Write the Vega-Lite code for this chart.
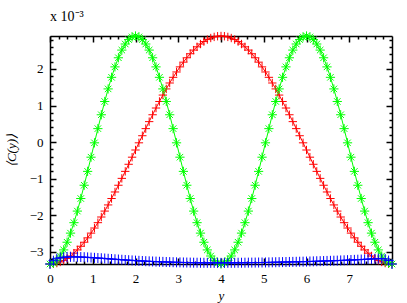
{
  "$schema": "https://vega.github.io/schema/vega-lite/v6.json",
  "width": 342,
  "height": 228,
  "autosize": {"type": "none"},
  "padding": {"left": 50, "top": 36, "right": 15, "bottom": 39},
  "background": "white",
  "title": {"text": "x 10⁻³", "anchor": "start", "frame": "group", "offset": 5, "font": "Liberation Serif", "fontSize": 14, "fontWeight": "normal", "color": "black"},
  "config": {
    "view": {"stroke": null},
    "axis": {"labelFont": "Liberation Serif", "labelFontSize": 13, "labelColor": "black", "titleFont": "Liberation Serif", "titleFontSize": 13, "titleFontWeight": "normal", "titleColor": "black", "domainColor": "black", "domainWidth": 1.5, "tickColor": "black", "tickWidth": 1.5, "grid": false, "labelFlush": false, "labelOverlap": false}
  },
  "data": {"values": [
    {"x":0,"y":-3.330,"s":"r"},{"x":0.08,"y":-3.324,"s":"r"},{"x":0.16,"y":-3.305,"s":"r"},{"x":0.24,"y":-3.275,"s":"r"},{"x":0.32,"y":-3.232,"s":"r"},{"x":0.4,"y":-3.178,"s":"r"},{"x":0.48,"y":-3.111,"s":"r"},{"x":0.56,"y":-3.034,"s":"r"},{"x":0.64,"y":-2.945,"s":"r"},{"x":0.72,"y":-2.845,"s":"r"},{"x":0.8,"y":-2.735,"s":"r"},{"x":0.88,"y":-2.615,"s":"r"},{"x":0.96,"y":-2.486,"s":"r"},{"x":1.04,"y":-2.347,"s":"r"},{"x":1.12,"y":-2.201,"s":"r"},{"x":1.2,"y":-2.046,"s":"r"},{"x":1.28,"y":-1.884,"s":"r"},{"x":1.36,"y":-1.716,"s":"r"},{"x":1.44,"y":-1.541,"s":"r"},{"x":1.52,"y":-1.362,"s":"r"},{"x":1.6,"y":-1.178,"s":"r"},{"x":1.68,"y":-0.990,"s":"r"},{"x":1.76,"y":-0.799,"s":"r"},{"x":1.84,"y":-0.605,"s":"r"},{"x":1.92,"y":-0.411,"s":"r"},{"x":2,"y":-0.215,"s":"r"},
    {"x":2.08,"y":-0.019,"s":"r"},{"x":2.16,"y":0.175,"s":"r"},{"x":2.24,"y":0.369,"s":"r"},{"x":2.32,"y":0.560,"s":"r"},{"x":2.4,"y":0.748,"s":"r"},{"x":2.48,"y":0.932,"s":"r"},{"x":2.56,"y":1.111,"s":"r"},{"x":2.64,"y":1.286,"s":"r"},{"x":2.72,"y":1.454,"s":"r"},{"x":2.8,"y":1.616,"s":"r"},{"x":2.88,"y":1.771,"s":"r"},{"x":2.96,"y":1.917,"s":"r"},{"x":3.04,"y":2.056,"s":"r"},{"x":3.12,"y":2.185,"s":"r"},{"x":3.2,"y":2.305,"s":"r"},{"x":3.28,"y":2.415,"s":"r"},{"x":3.36,"y":2.515,"s":"r"},{"x":3.44,"y":2.604,"s":"r"},{"x":3.52,"y":2.681,"s":"r"},{"x":3.6,"y":2.748,"s":"r"},{"x":3.68,"y":2.802,"s":"r"},{"x":3.76,"y":2.845,"s":"r"},{"x":3.84,"y":2.875,"s":"r"},{"x":3.92,"y":2.894,"s":"r"},{"x":4,"y":2.900,"s":"r"},
    {"x":4.08,"y":2.894,"s":"r"},{"x":4.16,"y":2.875,"s":"r"},{"x":4.24,"y":2.845,"s":"r"},{"x":4.32,"y":2.802,"s":"r"},{"x":4.4,"y":2.748,"s":"r"},{"x":4.48,"y":2.681,"s":"r"},{"x":4.56,"y":2.604,"s":"r"},{"x":4.64,"y":2.515,"s":"r"},{"x":4.72,"y":2.415,"s":"r"},{"x":4.8,"y":2.305,"s":"r"},{"x":4.88,"y":2.185,"s":"r"},{"x":4.96,"y":2.056,"s":"r"},{"x":5.04,"y":1.917,"s":"r"},{"x":5.12,"y":1.771,"s":"r"},{"x":5.2,"y":1.616,"s":"r"},{"x":5.28,"y":1.454,"s":"r"},{"x":5.36,"y":1.286,"s":"r"},{"x":5.44,"y":1.111,"s":"r"},{"x":5.52,"y":0.932,"s":"r"},{"x":5.6,"y":0.748,"s":"r"},{"x":5.68,"y":0.560,"s":"r"},{"x":5.76,"y":0.369,"s":"r"},{"x":5.84,"y":0.175,"s":"r"},{"x":5.92,"y":-0.019,"s":"r"},{"x":6,"y":-0.215,"s":"r"},
    {"x":6.08,"y":-0.411,"s":"r"},{"x":6.16,"y":-0.605,"s":"r"},{"x":6.24,"y":-0.799,"s":"r"},{"x":6.32,"y":-0.990,"s":"r"},{"x":6.4,"y":-1.178,"s":"r"},{"x":6.48,"y":-1.362,"s":"r"},{"x":6.56,"y":-1.541,"s":"r"},{"x":6.64,"y":-1.716,"s":"r"},{"x":6.72,"y":-1.884,"s":"r"},{"x":6.8,"y":-2.046,"s":"r"},{"x":6.88,"y":-2.201,"s":"r"},{"x":6.96,"y":-2.347,"s":"r"},{"x":7.04,"y":-2.486,"s":"r"},{"x":7.12,"y":-2.615,"s":"r"},{"x":7.2,"y":-2.735,"s":"r"},{"x":7.28,"y":-2.845,"s":"r"},{"x":7.36,"y":-2.945,"s":"r"},{"x":7.44,"y":-3.034,"s":"r"},{"x":7.52,"y":-3.111,"s":"r"},{"x":7.6,"y":-3.178,"s":"r"},{"x":7.68,"y":-3.232,"s":"r"},{"x":7.76,"y":-3.275,"s":"r"},{"x":7.84,"y":-3.305,"s":"r"},{"x":7.92,"y":-3.324,"s":"r"},{"x":8,"y":-3.330,"s":"r"},
    {"x":0,"y":-3.330,"s":"g"},{"x":0.08,"y":-3.305,"s":"g"},{"x":0.16,"y":-3.232,"s":"g"},{"x":0.24,"y":-3.111,"s":"g"},{"x":0.32,"y":-2.945,"s":"g"},{"x":0.4,"y":-2.735,"s":"g"},{"x":0.48,"y":-2.486,"s":"g"},{"x":0.56,"y":-2.201,"s":"g"},{"x":0.64,"y":-1.884,"s":"g"},{"x":0.72,"y":-1.541,"s":"g"},{"x":0.8,"y":-1.178,"s":"g"},{"x":0.88,"y":-0.799,"s":"g"},{"x":0.96,"y":-0.411,"s":"g"},{"x":1.04,"y":-0.019,"s":"g"},{"x":1.12,"y":0.369,"s":"g"},{"x":1.2,"y":0.748,"s":"g"},{"x":1.28,"y":1.111,"s":"g"},{"x":1.36,"y":1.454,"s":"g"},{"x":1.44,"y":1.771,"s":"g"},{"x":1.52,"y":2.056,"s":"g"},{"x":1.6,"y":2.305,"s":"g"},{"x":1.68,"y":2.515,"s":"g"},{"x":1.76,"y":2.681,"s":"g"},{"x":1.84,"y":2.802,"s":"g"},{"x":1.92,"y":2.875,"s":"g"},{"x":2,"y":2.900,"s":"g"},
    {"x":2.08,"y":2.875,"s":"g"},{"x":2.16,"y":2.802,"s":"g"},{"x":2.24,"y":2.681,"s":"g"},{"x":2.32,"y":2.515,"s":"g"},{"x":2.4,"y":2.305,"s":"g"},{"x":2.48,"y":2.056,"s":"g"},{"x":2.56,"y":1.771,"s":"g"},{"x":2.64,"y":1.454,"s":"g"},{"x":2.72,"y":1.111,"s":"g"},{"x":2.8,"y":0.748,"s":"g"},{"x":2.88,"y":0.369,"s":"g"},{"x":2.96,"y":-0.019,"s":"g"},{"x":3.04,"y":-0.411,"s":"g"},{"x":3.12,"y":-0.799,"s":"g"},{"x":3.2,"y":-1.178,"s":"g"},{"x":3.28,"y":-1.541,"s":"g"},{"x":3.36,"y":-1.884,"s":"g"},{"x":3.44,"y":-2.201,"s":"g"},{"x":3.52,"y":-2.486,"s":"g"},{"x":3.6,"y":-2.735,"s":"g"},{"x":3.68,"y":-2.945,"s":"g"},{"x":3.76,"y":-3.111,"s":"g"},{"x":3.84,"y":-3.232,"s":"g"},{"x":3.92,"y":-3.305,"s":"g"},{"x":4,"y":-3.330,"s":"g"},
    {"x":4.08,"y":-3.305,"s":"g"},{"x":4.16,"y":-3.232,"s":"g"},{"x":4.24,"y":-3.111,"s":"g"},{"x":4.32,"y":-2.945,"s":"g"},{"x":4.4,"y":-2.735,"s":"g"},{"x":4.48,"y":-2.486,"s":"g"},{"x":4.56,"y":-2.201,"s":"g"},{"x":4.64,"y":-1.884,"s":"g"},{"x":4.72,"y":-1.541,"s":"g"},{"x":4.8,"y":-1.178,"s":"g"},{"x":4.88,"y":-0.799,"s":"g"},{"x":4.96,"y":-0.411,"s":"g"},{"x":5.04,"y":-0.019,"s":"g"},{"x":5.12,"y":0.369,"s":"g"},{"x":5.2,"y":0.748,"s":"g"},{"x":5.28,"y":1.111,"s":"g"},{"x":5.36,"y":1.454,"s":"g"},{"x":5.44,"y":1.771,"s":"g"},{"x":5.52,"y":2.056,"s":"g"},{"x":5.6,"y":2.305,"s":"g"},{"x":5.68,"y":2.515,"s":"g"},{"x":5.76,"y":2.681,"s":"g"},{"x":5.84,"y":2.802,"s":"g"},{"x":5.92,"y":2.875,"s":"g"},{"x":6,"y":2.900,"s":"g"},
    {"x":6.08,"y":2.875,"s":"g"},{"x":6.16,"y":2.802,"s":"g"},{"x":6.24,"y":2.681,"s":"g"},{"x":6.32,"y":2.515,"s":"g"},{"x":6.4,"y":2.305,"s":"g"},{"x":6.48,"y":2.056,"s":"g"},{"x":6.56,"y":1.771,"s":"g"},{"x":6.64,"y":1.454,"s":"g"},{"x":6.72,"y":1.111,"s":"g"},{"x":6.8,"y":0.748,"s":"g"},{"x":6.88,"y":0.369,"s":"g"},{"x":6.96,"y":-0.019,"s":"g"},{"x":7.04,"y":-0.411,"s":"g"},{"x":7.12,"y":-0.799,"s":"g"},{"x":7.2,"y":-1.178,"s":"g"},{"x":7.28,"y":-1.541,"s":"g"},{"x":7.36,"y":-1.884,"s":"g"},{"x":7.44,"y":-2.201,"s":"g"},{"x":7.52,"y":-2.486,"s":"g"},{"x":7.6,"y":-2.735,"s":"g"},{"x":7.68,"y":-2.945,"s":"g"},{"x":7.76,"y":-3.111,"s":"g"},{"x":7.84,"y":-3.232,"s":"g"},{"x":7.92,"y":-3.305,"s":"g"},{"x":8,"y":-3.330,"s":"g"},
    {"x":0,"y":-3.330,"s":"b"},{"x":0.08,"y":-3.240,"s":"b"},{"x":0.16,"y":-3.185,"s":"b"},{"x":0.24,"y":-3.158,"s":"b"},{"x":0.32,"y":-3.145,"s":"b"},{"x":0.4,"y":-3.138,"s":"b"},{"x":0.48,"y":-3.135,"s":"b"},{"x":0.56,"y":-3.135,"s":"b"},{"x":0.64,"y":-3.137,"s":"b"},{"x":0.72,"y":-3.140,"s":"b"},{"x":0.8,"y":-3.144,"s":"b"},{"x":0.88,"y":-3.149,"s":"b"},{"x":0.96,"y":-3.155,"s":"b"},{"x":1.04,"y":-3.161,"s":"b"},{"x":1.12,"y":-3.167,"s":"b"},{"x":1.2,"y":-3.173,"s":"b"},{"x":1.28,"y":-3.180,"s":"b"},{"x":1.36,"y":-3.187,"s":"b"},{"x":1.44,"y":-3.194,"s":"b"},{"x":1.52,"y":-3.201,"s":"b"},{"x":1.6,"y":-3.208,"s":"b"},{"x":1.68,"y":-3.214,"s":"b"},{"x":1.76,"y":-3.220,"s":"b"},{"x":1.84,"y":-3.226,"s":"b"},{"x":1.92,"y":-3.232,"s":"b"},{"x":2,"y":-3.238,"s":"b"},
    {"x":2.08,"y":-3.243,"s":"b"},{"x":2.16,"y":-3.248,"s":"b"},{"x":2.24,"y":-3.253,"s":"b"},{"x":2.32,"y":-3.257,"s":"b"},{"x":2.4,"y":-3.261,"s":"b"},{"x":2.48,"y":-3.265,"s":"b"},{"x":2.56,"y":-3.269,"s":"b"},{"x":2.64,"y":-3.272,"s":"b"},{"x":2.72,"y":-3.275,"s":"b"},{"x":2.8,"y":-3.278,"s":"b"},{"x":2.88,"y":-3.281,"s":"b"},{"x":2.96,"y":-3.284,"s":"b"},{"x":3.04,"y":-3.286,"s":"b"},{"x":3.12,"y":-3.288,"s":"b"},{"x":3.2,"y":-3.290,"s":"b"},{"x":3.28,"y":-3.292,"s":"b"},{"x":3.36,"y":-3.294,"s":"b"},{"x":3.44,"y":-3.295,"s":"b"},{"x":3.52,"y":-3.296,"s":"b"},{"x":3.6,"y":-3.297,"s":"b"},{"x":3.68,"y":-3.298,"s":"b"},{"x":3.76,"y":-3.298,"s":"b"},{"x":3.84,"y":-3.299,"s":"b"},{"x":3.92,"y":-3.299,"s":"b"},{"x":4,"y":-3.299,"s":"b"},
    {"x":4.08,"y":-3.299,"s":"b"},{"x":4.16,"y":-3.298,"s":"b"},{"x":4.24,"y":-3.298,"s":"b"},{"x":4.32,"y":-3.297,"s":"b"},{"x":4.4,"y":-3.296,"s":"b"},{"x":4.48,"y":-3.295,"s":"b"},{"x":4.56,"y":-3.294,"s":"b"},{"x":4.64,"y":-3.293,"s":"b"},{"x":4.72,"y":-3.292,"s":"b"},{"x":4.8,"y":-3.291,"s":"b"},{"x":4.88,"y":-3.290,"s":"b"},{"x":4.96,"y":-3.289,"s":"b"},{"x":5.04,"y":-3.288,"s":"b"},{"x":5.12,"y":-3.286,"s":"b"},{"x":5.2,"y":-3.284,"s":"b"},{"x":5.28,"y":-3.282,"s":"b"},{"x":5.36,"y":-3.280,"s":"b"},{"x":5.44,"y":-3.278,"s":"b"},{"x":5.52,"y":-3.276,"s":"b"},{"x":5.6,"y":-3.274,"s":"b"},{"x":5.68,"y":-3.272,"s":"b"},{"x":5.76,"y":-3.270,"s":"b"},{"x":5.84,"y":-3.268,"s":"b"},{"x":5.92,"y":-3.266,"s":"b"},{"x":6,"y":-3.264,"s":"b"},
    {"x":6.08,"y":-3.261,"s":"b"},{"x":6.16,"y":-3.258,"s":"b"},{"x":6.24,"y":-3.255,"s":"b"},{"x":6.32,"y":-3.252,"s":"b"},{"x":6.4,"y":-3.249,"s":"b"},{"x":6.48,"y":-3.246,"s":"b"},{"x":6.56,"y":-3.243,"s":"b"},{"x":6.64,"y":-3.240,"s":"b"},{"x":6.72,"y":-3.237,"s":"b"},{"x":6.8,"y":-3.233,"s":"b"},{"x":6.88,"y":-3.229,"s":"b"},{"x":6.96,"y":-3.225,"s":"b"},{"x":7.04,"y":-3.221,"s":"b"},{"x":7.12,"y":-3.217,"s":"b"},{"x":7.2,"y":-3.213,"s":"b"},{"x":7.28,"y":-3.208,"s":"b"},{"x":7.36,"y":-3.203,"s":"b"},{"x":7.44,"y":-3.198,"s":"b"},{"x":7.52,"y":-3.193,"s":"b"},{"x":7.6,"y":-3.188,"s":"b"},{"x":7.68,"y":-3.184,"s":"b"},{"x":7.76,"y":-3.183,"s":"b"},{"x":7.84,"y":-3.192,"s":"b"},{"x":7.92,"y":-3.235,"s":"b"},{"x":8,"y":-3.330,"s":"b"}
  ]},
  "layer": [
    {
      "mark": {"type": "line", "strokeWidth": 1},
      "encoding": {
        "x": {"field": "x", "type": "quantitative", "scale": {"domain": [0, 8], "nice": false, "zero": false},
          "axis": {"orient": "bottom", "values": [0,0.2,0.4,0.6,0.8,1,1.2,1.4,1.6,1.8,2,2.2,2.4,2.6,2.8,3,3.2,3.4,3.6,3.8,4,4.2,4.4,4.6,4.8,5,5.2,5.4,5.6,5.8,6,6.2,6.4,6.6,6.8,7,7.2,7.4,7.6,7.8],
            "labelExpr": "datum.value % 1 === 0 ? format(datum.value, 'd') : ''", "labelOverlap": false, "labelFlush": false,
            "labelFont": "Liberation Serif", "labelFontSize": 13,
            "tickSize": {"condition": {"test": "datum.value % 1 === 0", "value": -6}, "value": -3},
            "labelPadding": 14, "title": "y", "titleFont": "Liberation Serif", "titleFontStyle": "italic", "titlePadding": 1}},
        "y": {"field": "y", "type": "quantitative", "scale": {"domain": [-3.33, 2.9], "nice": false, "zero": false},
          "axis": {"orient": "left", "values": [-3.2,-3,-2.8,-2.6,-2.4,-2.2,-2,-1.8,-1.6,-1.4,-1.2,-1,-0.8,-0.6,-0.4,-0.2,0,0.2,0.4,0.6,0.8,1,1.2,1.4,1.6,1.8,2,2.2,2.4,2.6,2.8],
            "labelExpr": "datum.value % 1 === 0 ? format(datum.value, 'd') : ''", "labelOverlap": false, "labelFlush": false,
            "labelFont": "Liberation Serif", "labelFontSize": 13,
            "tickSize": {"condition": {"test": "datum.value % 1 === 0", "value": -6}, "value": -3},
            "labelPadding": 13, "title": "⟨C(y)⟩", "titleFont": "Liberation Serif", "titleFontStyle": "italic", "titlePadding": 11}},
        "color": {"field": "s", "type": "nominal", "scale": {"domain": ["r", "g", "b"], "range": ["#ff0000", "#00ff00", "#0000ff"]}, "legend": null},
        "detail": {"field": "s"}
      }
    },
    {
      "mark": {"type": "point", "filled": false, "strokeWidth": 1, "opacity": 1},
      "encoding": {
        "x": {"field": "x", "type": "quantitative", "axis": null},
        "y": {"field": "y", "type": "quantitative", "axis": null},
        "color": {"field": "s", "type": "nominal", "legend": null},
        "shape": {"field": "s", "type": "nominal", "scale": {"domain": ["r", "g", "b"], "range": ["M-1,0H1M0,-1V1", "M-1,0H1M0,-1V1M-0.7,-0.7L0.7,0.7M-0.7,0.7L0.7,-0.7", "M-1,0H1M0,-1V1"]}, "legend": null},
        "size": {"field": "s", "type": "ordinal", "scale": {"domain": ["r", "g", "b"], "range": [70, 100, 75]}, "legend": null}
      }
    },
    {
      "mark": {"type": "point", "opacity": 0},
      "encoding": {
        "x": {"field": "x", "type": "quantitative",
          "axis": {"orient": "top", "values": [0,0.2,0.4,0.6,0.8,1,1.2,1.4,1.6,1.8,2,2.2,2.4,2.6,2.8,3,3.2,3.4,3.6,3.8,4,4.2,4.4,4.6,4.8,5,5.2,5.4,5.6,5.8,6,6.2,6.4,6.6,6.8,7,7.2,7.4,7.6,7.8],
            "labels": false, "title": null,
            "tickSize": {"condition": {"test": "datum.value % 1 === 0", "value": -6}, "value": -3}}},
        "y": {"field": "y", "type": "quantitative",
          "axis": {"orient": "right", "values": [-3.2,-3,-2.8,-2.6,-2.4,-2.2,-2,-1.8,-1.6,-1.4,-1.2,-1,-0.8,-0.6,-0.4,-0.2,0,0.2,0.4,0.6,0.8,1,1.2,1.4,1.6,1.8,2,2.2,2.4,2.6,2.8],
            "labels": false, "title": null,
            "tickSize": {"condition": {"test": "datum.value % 1 === 0", "value": -6}, "value": -3}}}
      }
    }
  ],
  "resolve": {"axis": {"x": "independent", "y": "independent"}}
}
